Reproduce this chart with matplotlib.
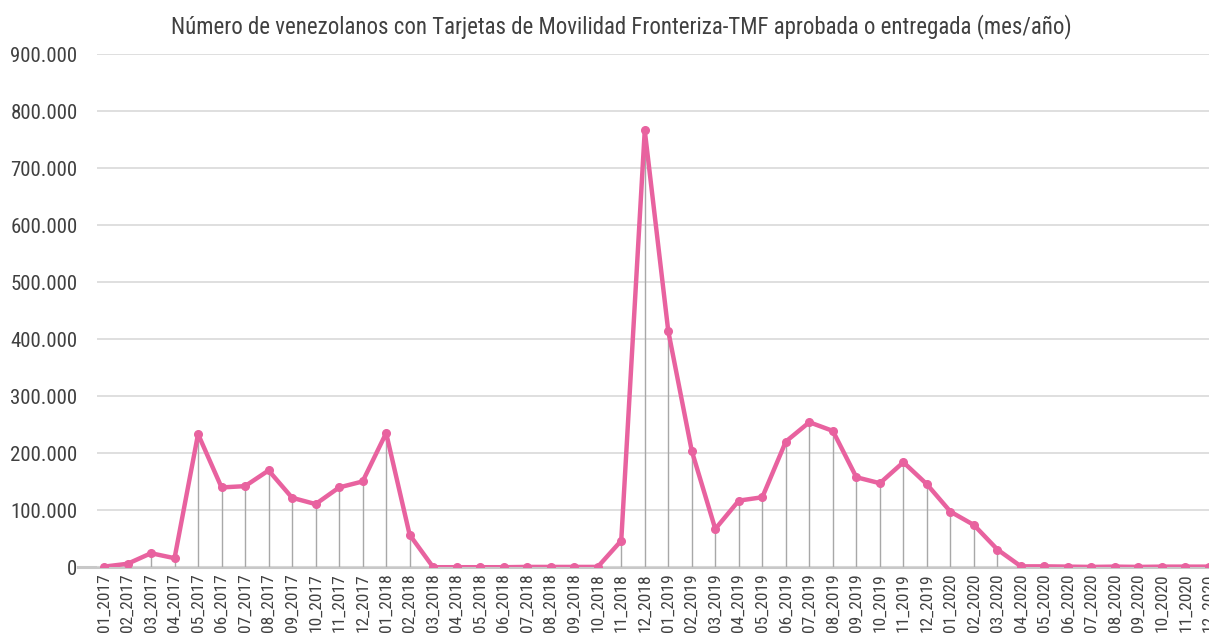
import matplotlib
matplotlib.use("Agg")
from matplotlib import pyplot as plt
from matplotlib.ticker import FuncFormatter, MultipleLocator

plt.rcParams['font.family'] = ['Roboto Condensed', 'Liberation Sans Narrow', 'DejaVu Sans']

# meses 01_2017 .. 12_2020
years = [2017, 2018, 2019, 2020]
meses = [f"{m:02d}_{y}" for y in years for m in range(1, 13)]

# numero de TMF aprobadas o entregadas por mes
tmf_2017 = [1500, 6500, 25000, 16300, 233800, 140300, 142600, 170100,
            122200, 111100, 140300, 150800]
tmf_2018 = [235600, 57300, 500, 500, 500, 500, 1000, 1000,
            1000, 1000, 47000, 766000]
tmf_2019 = [414300, 204300, 67500, 117200, 123100, 220700, 254600, 239400,
            158200, 147700, 184500, 145900]
tmf_2020 = [97900, 74500, 31500, 2000, 2000, 1500, 1000, 1500,
            1000, 1500, 1500, 1500]
tarjetas = tmf_2017 + tmf_2018 + tmf_2019 + tmf_2020

titulo = "Número de venezolanos con Tarjetas de Movilidad Fronteriza-TMF aprobada o entregada (mes/año)"

pink = "#e8629f"
text_color = "#404040"

fig = plt.figure(figsize=(12.09, 6.4), dpi=100)
ax = fig.add_axes([0.0802, 0.1133, 0.9198, 0.8023])

x = list(range(len(meses)))

# lineas de caida grises
ax.vlines(x, 0, tarjetas, color="#a8a8a8", linewidth=1, zorder=2)
ax.plot(x, tarjetas, color=pink, linewidth=3.2, marker="o", markersize=5.5,
        zorder=3, solid_joinstyle="round")

ax.set_ylim(0, 900000)
ax.set_xlim(-0.3, 46.87)
ax.yaxis.set_major_locator(MultipleLocator(100000))
ax.yaxis.set_major_formatter(FuncFormatter(lambda v, p: f"{int(v):,}".replace(",", ".")))
ax.grid(axis="y", color="#d9d9d9", linewidth=1.2, zorder=0)
ax.axhline(0, xmin=-0.017, xmax=1, color="#c8c8c8", linewidth=2.2, clip_on=False, zorder=1)

for s in ax.spines.values():
    s.set_visible(False)

ax.set_xticks(x)
ax.set_xticklabels(meses, rotation=90, fontsize=12.5, color=text_color)
ax.tick_params(axis="x", length=0, pad=4)
ax.tick_params(axis="y", length=0, pad=14, labelsize=15, labelcolor=text_color)

fig.text(621 / 1209, 1 - 27 / 640, titulo, ha="center", va="center",
         fontsize=16.5, color=text_color)

plt.savefig("out.png", dpi=100)
